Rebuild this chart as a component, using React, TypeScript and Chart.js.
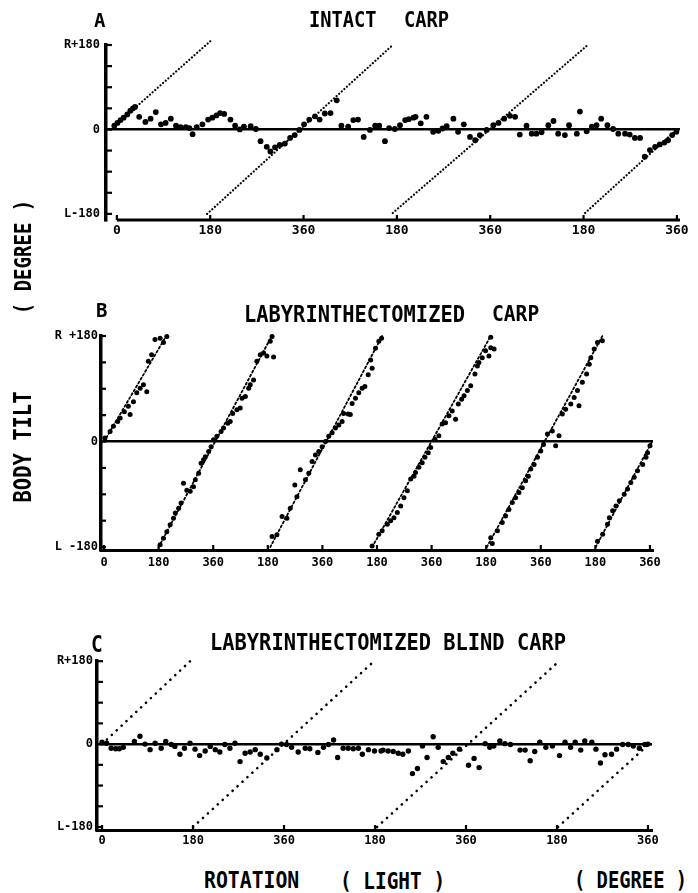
import React, { useEffect, useRef } from "react";
import { Chart, registerables } from "chart.js";
Chart.register(...registerables);

const MONO = "'DejaVu Sans Mono', 'Liberation Mono', monospace";

// ---------- axis ticks ----------
const rotationTicks3 = [0, 180, 360, 540, 720, 900, 1080];
const rotationLabels3 = ["0", "180", "360", "180", "360", "180", "360"];
const rotationTicks5 = [0, 180, 360, 540, 720, 900, 1080, 1260, 1440, 1620, 1800];
const rotationLabels5 = ["0", "180", "360", "180", "360", "180", "360", "180", "360", "180", "360"];
const tiltTicks = [-180, -135, -90, -45, 0, 45, 90, 135, 180];
const tiltLabels = ["L-180", "", "", "", "0", "", "", "", "R+180"];
const tiltLabelsB = ["L -180", "", "", "", "0", "", "", "", "R +180"];

// ---------- A: intact carp (rotation deg, body tilt deg) ----------
const intactCarp: number[][] = [
  [-5, 8], [1, 14], [7, 20], [13, 25], [20, 32], [26, 40], [31, 45], [35, 48],
  [43, 27], [55, 16], [65, 23], [75, 37], [85, 11], [94, 14], [104, 23], [114, 8],
  [123, 5], [133, 5], [140, 3], [146, -10], [154, 5], [165, 11], [176, 21], [184, 25],
  [192, 30], [199, 35], [207, 33], [219, 21], [228, 8], [237, 0], [245, 6], [258, 7],
  [268, 1], [277, -25], [289, -37], [296, -47], [305, -38], [314, -33], [324, -30],
  [334, -18], [343, -12], [352, -1], [361, 11], [371, 21], [382, 28], [391, 21],
  [401, 34], [412, 35], [424, 62], [433, 8], [446, 6], [456, 20], [465, 21], [476, -16],
  [488, -1], [498, 8], [506, 8], [517, -25],
  [525, 3], [536, 1], [546, 9], [556, 20], [563, 22], [572, 25], [576, 27], [586, 13],
  [597, 27], [610, -5], [620, -3], [628, 2], [636, 7], [649, 23], [658, -5], [669, 11],
  [681, -16], [691, -23], [700, -12], [713, -1], [726, 9], [736, 14], [747, 23], [758, 29],
  [768, 27], [777, -11], [790, 8], [800, -9], [809, -9], [819, -6], [832, 9], [842, 18],
  [851, -9], [864, -12], [872, 9], [887, -9], [893, 38], [906, -4], [916, 6], [925, 9],
  [934, 23], [946, 9], [957, 1], [967, -9], [980, -9], [989, -11], [999, -18], [1009, -18],
  [1018, -58], [1028, -44], [1038, -37], [1047, -32], [1056, -28], [1063, -23], [1071, -12],
  [1079, -5],
];

// ---------- B: labyrinthectomized carp ----------
const labyrinthCarp: number[][] = [
  [3, 6], [20, 17], [31, 26], [45, 34], [53, 40], [67, 51], [80, 60], [86, 46], [97, 68],
  [108, 83], [119, 91], [130, 97], [141, 85], [146, 137], [157, 148], [168, 174], [185, 176],
  [196, 169], [207, 179],
  [185, -176], [196, -165], [207, -154], [218, -142], [229, -131], [235, -122], [246, -114],
  [254, -105], [262, -71], [273, -83], [284, -85], [295, -77], [301, -65], [312, -54],
  [320, -37], [328, -31], [334, -26], [345, -17], [353, -9], [361, 3], [372, 9], [386, 17],
  [394, 23], [408, 31], [416, 34], [424, 48], [438, 54], [449, 57], [455, 74], [466, 77],
  [477, 91], [482, 97], [493, 105], [504, 137], [515, 148], [526, 151], [537, 146],
  [559, 144], [548, 171], [554, 179],
  [554, -162], [570, -159], [587, -128], [603, -131], [614, -114], [629, -74], [636, -94],
  [647, -48], [664, -65], [675, -54], [686, -34], [697, -23], [708, -17], [719, -9],
  [730, 0], [741, 9], [752, 15], [763, 23], [774, 28], [785, 34], [790, 48], [805, 47],
  [812, 46], [818, 65], [829, 74], [840, 83], [851, 91], [860, 94], [871, 114], [884, 125],
  [879, 139], [895, 159], [906, 171], [915, 176],
  [884, -178], [906, -158], [917, -152], [934, -141], [945, -135], [956, -130], [967, -121],
  [978, -110], [989, -96], [1000, -84], [1011, -64], [1022, -59], [1027, -53], [1038, -44],
  [1049, -36], [1058, -27], [1069, -19], [1077, -10], [1091, 4], [1104, 10], [1115, 30],
  [1126, 32], [1137, 44], [1148, 52], [1159, 38], [1168, 64], [1179, 72], [1187, 78],
  [1198, 87], [1209, 95], [1223, 115], [1231, 129], [1236, 135], [1247, 143], [1258, 155],
  [1269, 146], [1275, 160], [1286, 158], [1275, 178],
  [1275, -164], [1280, -174], [1297, -152], [1313, -138], [1324, -127], [1335, -116],
  [1346, -104], [1357, -96], [1368, -87], [1379, -79], [1390, -67], [1399, -59], [1407, -47],
  [1418, -39], [1429, -27], [1440, -16], [1449, -5], [1489, -7], [1462, 13], [1478, 18],
  [1500, 10], [1511, 47], [1522, 55], [1539, 64], [1550, 75], [1561, 87], [1566, 61],
  [1577, 101], [1591, 115], [1600, 132], [1605, 143], [1616, 158], [1627, 169], [1643, 172],
  [1627, -170], [1644, -158], [1660, -141], [1666, -130], [1677, -118], [1688, -110],
  [1699, -101], [1715, -90], [1726, -81], [1737, -70], [1748, -61], [1759, -50], [1776, -39],
  [1787, -27], [1792, -19], [1800, -7],
];

// ---------- C: labyrinthectomized blind carp ----------
const blindCarp: number[][] = [
  [0, 4], [9, 2], [18, -9], [27, -10], [34, -10], [42, -7], [64, 6], [75, 17], [85, 0],
  [95, -12], [105, 2], [117, -9], [126, 6], [137, -1], [144, -5], [154, -22], [163, -9],
  [174, 2], [184, -11], [193, -25], [204, -15], [214, -5], [224, -12], [233, -17], [243, -1],
  [253, -9], [263, 2], [273, -38], [283, -20], [293, -17], [303, -12], [313, -22], [326, -30],
  [346, -12], [355, 0], [365, -1], [375, -7], [388, -17], [402, -9], [411, -10], [427, -18],
  [438, -7], [448, -1], [458, 9], [466, -29], [477, -9], [487, -9], [497, -10], [507, -9],
  [515, -22], [527, -12], [539, -15], [552, -15],
  [556, -13], [566, -15], [576, -16], [586, -20], [595, -22], [606, -15], [614, -64],
  [624, -53], [634, -4], [643, -29], [655, 16], [665, -7], [675, -38], [685, -29], [694, -20],
  [707, -11], [725, -46], [736, -31], [746, -51], [758, 1], [767, -7], [775, -4], [787, 7],
  [797, 1], [808, -1], [827, -13], [837, -13], [847, -36], [856, -16], [866, 4], [878, -7],
  [891, -4], [905, -25], [916, 4], [927, -7], [936, 4], [947, -13], [955, 7], [969, 4],
  [977, -11], [986, -41], [995, -23], [1008, -22], [1018, -11], [1030, -1], [1041, -1],
  [1051, -4], [1063, -9], [1074, -1], [1080, 0],
];

// ---------- dotted guide lines (tilt following the light) ----------
const guideA: number[][][] = [
  [[-12, 0], [180, 188]],
  [[174, -180], [532, 180]],
  [[532, -178], [906, 178]],
  [[903, -178], [1080, 0]],
];
const guideB: number[][][] = [
  [[0, 0], [205, 180]],
  [[180, -180], [553, 180]],
  [[548, -180], [917, 180]],
  [[884, -180], [1275, 180]],
  [[1262, -180], [1643, 180]],
  [[1621, -180], [1807, 0]],
];
const guideC: number[][][] = [
  [[0, 0], [180, 186]],
  [[180, -180], [540, 182]],
  [[544, -180], [902, 178]],
  [[902, -180], [1082, 0]],
];

type Panel = {
  points: number[][];
  guides: number[][][];
  xTicks: number[];
  xLabels: string[];
  yLabels: string[];
  xMin: number; xMax: number; yMin: number; yMax: number;
  xAxisFrom: number | null;
  top: number; height: number;
  padding: { left: number; right: number; top: number; bottom: number };
  radius: number;
  dash: number[]; dashWidth: number;
  xPad: number; yPad: number; xFont: number; yFont: number;
  xTickLen: number; yTickLen: number;
};

const panels: Panel[] = [
  {
    points: intactCarp, guides: guideA, xTicks: rotationTicks3, xLabels: rotationLabels3, yLabels: tiltLabels,
    xMin: -21, xMax: 1086, yMin: -193, yMax: 180, xAxisFrom: 0, top: 30, height: 215,
    padding: { left: 46, right: 18, top: 15, bottom: 0 },
    radius: 2.9, dash: [0.1, 3.4], dashWidth: 2.2, xPad: 3, yPad: 6, xFont: 13, yFont: 12,
    xTickLen: 5, yTickLen: 6,
  },
  {
    points: labyrinthCarp, guides: guideB, xTicks: rotationTicks5, xLabels: rotationLabels5, yLabels: tiltLabelsB,
    xMin: -10, xMax: 1810, yMin: -185, yMax: 180, xAxisFrom: null, top: 320, height: 260,
    padding: { left: 41, right: 45, top: 16, bottom: 5 },
    radius: 2.5, dash: [2, 2.5], dashWidth: 1.8, xPad: 6, yPad: 3, xFont: 12, yFont: 12,
    xTickLen: 5, yTickLen: 5,
  },
  {
    points: blindCarp, guides: guideC, xTicks: rotationTicks3, xLabels: rotationLabels3, yLabels: tiltLabels,
    xMin: -10, xMax: 1088, yMin: -186.5, yMax: 180, xAxisFrom: null, top: 650, height: 210,
    padding: { left: 37, right: 46, top: 11, bottom: 5 },
    radius: 2.7, dash: [0.1, 6.6], dashWidth: 2.6, xPad: 4, yPad: 4, xFont: 12, yFont: 12,
    xTickLen: 5, yTickLen: 6,
  },
];

function tickPlugin(p: Panel) {
  return {
    id: "inwardTicks",
    afterDatasetsDraw(chart: any) {
      const { ctx, chartArea, scales } = chart;
      ctx.save();
      ctx.strokeStyle = "#000";
      if (p.xAxisFrom !== null) {
        ctx.lineWidth = 3;
        ctx.beginPath();
        ctx.moveTo(scales.x.getPixelForValue(p.xAxisFrom), chartArea.bottom);
        ctx.lineTo(chartArea.right, chartArea.bottom);
        ctx.stroke();
      }
      ctx.lineWidth = 2.2;
      scales.y.ticks.forEach((t: any) => {
        const py = scales.y.getPixelForValue(t.value);
        ctx.beginPath();
        ctx.moveTo(chartArea.left, py);
        ctx.lineTo(chartArea.left + p.yTickLen, py);
        ctx.stroke();
      });
      scales.x.ticks.forEach((t: any) => {
        const px = scales.x.getPixelForValue(t.value);
        ctx.beginPath();
        ctx.moveTo(px, chartArea.bottom);
        ctx.lineTo(px, chartArea.bottom - p.xTickLen);
        ctx.stroke();
      });
      ctx.restore();
    },
  };
}

function PanelChart({ p }: { p: Panel }) {
  const ref = useRef<HTMLCanvasElement>(null);
  useEffect(() => {
    const chart = new Chart(ref.current as HTMLCanvasElement, {
      type: "scatter",
      data: {
        datasets: [
          ...p.guides.map((g) => ({
            data: g.map(([x, y]) => ({ x, y })),
            showLine: true,
            pointRadius: 0,
            borderColor: "#000",
            borderWidth: p.dashWidth,
            borderDash: p.dash,
            borderCapStyle: "round" as const,
            clip: 10,
          })),
          {
            data: p.points.map(([x, y]) => ({ x, y })),
            pointRadius: p.radius,
            pointHoverRadius: p.radius,
            backgroundColor: "#000",
            borderWidth: 0,
            clip: 10,
          },
        ],
      },
      options: {
        animation: false,
        responsive: false,
        devicePixelRatio: 1,
        events: [],
        layout: { padding: p.padding },
        plugins: { legend: { display: false }, tooltip: { enabled: false } },
        scales: {
          x: {
            type: "linear",
            min: p.xMin,
            max: p.xMax,
            afterBuildTicks: (s: any) => {
              s.ticks = p.xTicks.map((v) => ({ value: v }));
            },
            afterFit: (s: any) => {
              s.height = 25;
            },
            grid: { display: false, drawTicks: false },
            border: { display: p.xAxisFrom === null, color: "#000", width: 3 },
            ticks: {
              autoSkip: false,
              maxRotation: 0,
              padding: p.xPad,
              color: "#000",
              font: { family: MONO, weight: "bold", size: p.xFont },
              callback: (_v: any, i: number) => p.xLabels[i],
            },
          },
          y: {
            type: "linear",
            min: p.yMin,
            max: p.yMax,
            afterBuildTicks: (s: any) => {
              s.ticks = tiltTicks.map((v) => ({ value: v }));
            },
            afterFit: (s: any) => {
              s.width = 60;
            },
            grid: {
              display: true,
              drawTicks: false,
              color: (c: any) => (c.tick && c.tick.value === 0 ? "#000" : "rgba(0,0,0,0)"),
              lineWidth: 2.6,
            },
            border: { display: true, color: "#000", width: 3.5 },
            ticks: {
              autoSkip: false,
              padding: p.yPad,
              color: "#000",
              font: { family: MONO, weight: "bold", size: p.yFont },
              callback: (_v: any, i: number) => p.yLabels[i],
            },
          },
        },
      },
      plugins: [tickPlugin(p)],
    } as any);
    return () => chart.destroy();
  }, [p]);
  return (
    <canvas
      ref={ref}
      width={698}
      height={p.height}
      style={{ position: "absolute", left: 0, top: p.top, width: 698, height: p.height }}
    />
  );
}

function Txt({ t, x, b, size, sy = 1 }: { t: string; x: number; b: number; size: number; sy?: number }) {
  const base = 0.846 * size;
  return (
    <div
      style={{
        position: "absolute",
        left: x,
        top: b - base,
        fontFamily: MONO,
        fontWeight: "bold",
        fontSize: size,
        lineHeight: 1,
        whiteSpace: "pre",
        color: "#000",
        transform: `scaleY(${sy})`,
        transformOrigin: `0 ${base}px`,
        zIndex: 2,
      }}
    >
      {t}
    </div>
  );
}

function VTxt({ t, cx, cy, size, s = 1 }: { t: string; cx: number; cy: number; size: number; s?: number }) {
  return (
    <div
      style={{
        position: "absolute",
        left: cx,
        top: cy,
        fontFamily: MONO,
        fontWeight: "bold",
        fontSize: size,
        lineHeight: 1,
        whiteSpace: "pre",
        color: "#000",
        transform: `translate(-50%, -50%) rotate(-90deg) scaleY(${s})`,
        zIndex: 2,
      }}
    >
      {t}
    </div>
  );
}

export default function App() {
  useEffect(() => {
    document.body.style.overflow = "hidden";
  }, []);
  return (
    <div
      style={{
        position: "absolute",
        left: 0,
        top: 0,
        width: 698,
        height: 893,
        background: "#fff",
        overflow: "hidden",
      }}
    >
      {panels.map((p, i) => (
        <PanelChart key={i} p={p} />
      ))}
      {/* panel titles */}
      <Txt t="A" x={94} b={27} size={19} sy={1.0} />
      <Txt t="INTACT" x={309} b={28} size={18.7} sy={1.1} />
      <Txt t="CARP" x={404} b={28} size={18.7} sy={1.1} />
      <Txt t="B" x={96} b={317} size={19} sy={1.0} />
      <Txt t="LABYRINTHECTOMIZED" x={244} b={322} size={20.4} sy={1.1} />
      <Txt t="CARP" x={492} b={322} size={19.6} sy={1.1} />
      <Txt t="C" x={91} b={652} size={19.5} sy={1.15} />
      <Txt t="LABYRINTHECTOMIZED BLIND CARP" x={210} b={650} size={20.4} sy={1.15} />
      {/* axis titles */}
      <VTxt t="BODY TILT" cx={23} cy={447} size={20.5} s={1.25} />
      <VTxt t="( DEGREE )" cx={23} cy={257} size={19} s={1.25} />
      <Txt t="ROTATION" x={204} b={889} size={19.8} sy={1.2} />
      <Txt t="( LIGHT )" x={340} b={889} size={19.4} sy={1.2} />
      <Txt t="( DEGREE )" x={574} b={889} size={18.8} sy={1.2} />
    </div>
  );
}
